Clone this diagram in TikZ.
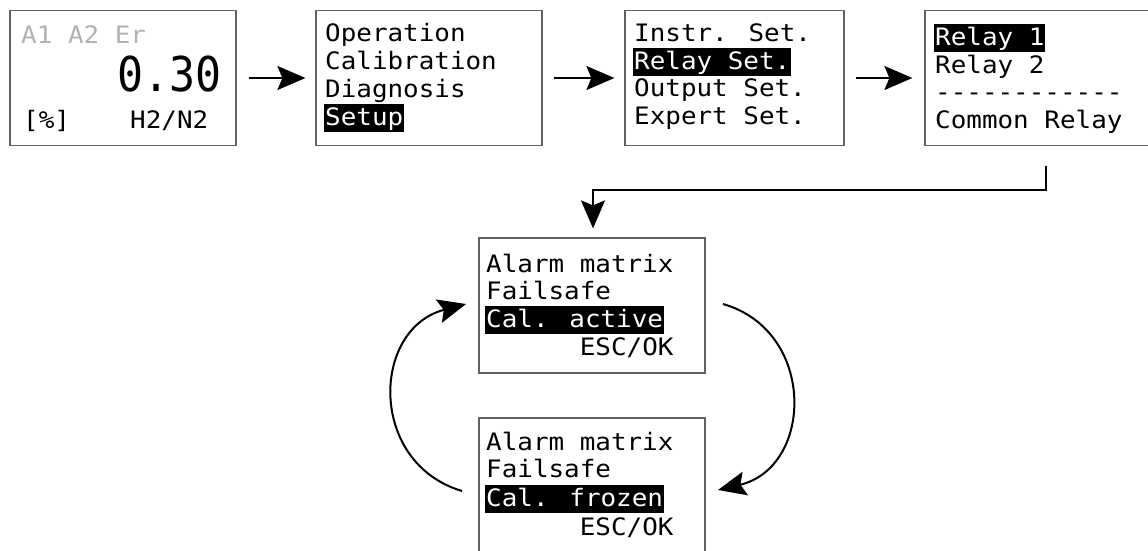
\documentclass[tikz,border=0pt]{standalone}
\usepackage{fontspec}
\usetikzlibrary{arrows.meta}
\newfontfamily\lcd[FakeStretch=1.08,Ligatures=TeXOff]{DejaVu Sans Mono}
\newfontfamily\lcdbig[FakeStretch=0.9]{DejaVu Sans Mono}
\begin{document}
\begin{tikzpicture}[x=1pt,y=-1pt,
 box/.style={draw=black!62, line width=1.2pt, fill=white, inner sep=0pt},
 txt/.style={anchor=base west, inner xsep=1pt, inner ysep=0pt, font=\lcd\fontsize{24}{28}\selectfont},
 hl/.style={txt, fill=black, text=white, text height=21pt, text depth=7pt},
 arr/.style={line width=2pt, -{Stealth[length=28pt,width=24pt,inset=5pt]}},
]
\useasboundingbox (0,0) rectangle (1148,550);
% boxes
\node[box, minimum width=226pt, minimum height=135pt] (b1) at (123,78) {};
\node[box, minimum width=226pt, minimum height=135pt] (b2) at (429,78) {};
\node[box, minimum width=219pt, minimum height=135pt] (b3) at (734.5,78) {};
\node[box, minimum width=242pt, minimum height=135pt] (b4) at (1046,78) {};
\node[box, minimum width=226pt, minimum height=135pt] (b5) at (592,305.5) {};
\node[box, minimum width=226pt, minimum height=135pt] (b6) at (592,485.5) {};
% box 1
\node[txt, text=black!30] (t11) at (20,43) {A1 A2 Er};
\node[anchor=base east, inner sep=0pt, font=\lcdbig\fontsize{48}{50}\selectfont] (t12) at (222,91.5) {0.30};
\node[txt] (t13) at (22,128) {[\%]};
\node[txt] (t14) at (129,128) {H2/N2};
% box 2
\node[txt] (t21) at (324,41) {Operation};
\node[txt] (t22) at (324,69) {Calibration};
\node[txt] (t23) at (324,97) {Diagnosis};
\node[hl]  (t24) at (324,125) {Setup};
% box 3
\node[txt] (t31) at (633,41) {Instr. Set.};
\node[hl]  (t32) at (633,69) {Relay Set.};
\node[txt] (t33) at (633,96) {Output Set.};
\node[txt] (t34) at (633,124) {Expert Set.};
% box 4
\node[hl]  (t41) at (934,45) {Relay 1};
\node[txt] (t42) at (934,73) {Relay 2};
\node[txt] (t43) at (934,100) {------------};
\node[txt] (t44) at (934,128) {Common Relay};
% box 5
\node[txt] (t51) at (485,272) {Alarm matrix};
\node[txt] (t52) at (485,299) {Failsafe};
\node[hl]  (t53) at (485,327) {Cal. active};
\node[txt] (t54) at (485,355) {\hphantom{000000}ESC/OK};
% box 6
\node[txt] (t61) at (485,450) {Alarm matrix};
\node[txt] (t62) at (485,477) {Failsafe};
\node[hl]  (t63) at (485,506) {Cal. frozen};
\node[txt] (t64) at (485,535) {\hphantom{000000}ESC/OK};
% connectors
\draw[arr, shorten <=12pt, shorten >=10pt] (b1) -- (b2);
\draw[arr, shorten <=11pt, shorten >=10pt] (b2) -- (b3);
\draw[arr, shorten <=11pt, shorten >=12pt] (b3) -- (b4);
\coordinate (turn) at (593,190);
\draw[arr, shorten <=20pt, shorten >=9pt] (b4.south) |- (turn) -- (turn |- b5.north);
\coordinate (la) at (462,491);
\coordinate (lb) at (466,304);
\draw[arr] (la) .. controls (368,463) and (371,329) .. (lb);
\coordinate (ra) at (723,304);
\coordinate (rb) at (718,490);
\draw[arr] (ra) .. controls (817,331) and (813.5,467.4) .. (rb);
\end{tikzpicture}
\end{document}
